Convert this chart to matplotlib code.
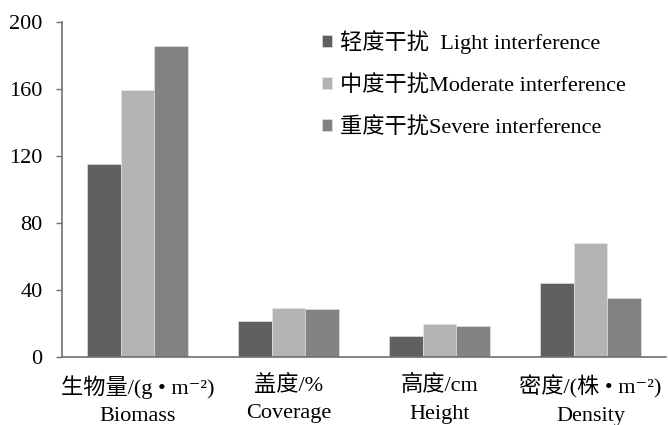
import matplotlib
matplotlib.use("Agg")
import matplotlib.pyplot as plt
import numpy as np

plt.rcParams['font.family'] = ['Liberation Serif', 'Noto Sans CJK SC', 'DejaVu Sans']

categories = ["生物量/(g • m⁻²)\nBiomass", "盖度/%\nCoverage", "高度/cm\nHeight", "密度/(株 • m⁻²)\nDensity"]
series_names = ["轻度干扰  Light interference", "中度干扰Moderate interference", "重度干扰Severe interference"]
light_vals = [115.1, 21.6, 12.7, 44.4]
moderate_vals = [159.5, 29.5, 19.6, 68.2]
severe_vals = [186.0, 28.7, 18.4, 35.5]
colors = ["#606060", "#b4b4b4", "#828282"]
yticks = [0, 40, 80, 120, 160, 200]

fig = plt.figure(figsize=(6.68, 4.25), dpi=100)
ax = fig.add_axes([0.093, 0.16, 0.904, 0.788])

x = np.arange(len(categories))
w = 0.222
for i, (vals, name, c) in enumerate(zip([light_vals, moderate_vals, severe_vals], series_names, colors)):
    ax.bar(x + (i - 1) * w, vals, width=w, color=c, label=name, edgecolor='#e8e8e8', linewidth=0.4)

ax.set_xlim(-0.5, 3.5)
ax.set_ylim(0, 200)
ax.set_yticks(yticks)
ax.set_yticklabels([str(t) for t in yticks], fontsize=16)
ax.set_xticks(x)
ax.set_xticklabels(categories, fontsize=16, linespacing=1.6)
ax.tick_params(axis='x', length=0, pad=13)
ax.tick_params(axis='y', direction='out', length=4, width=1, color='#707070', pad=10)
for s in ['top', 'right']:
    ax.spines[s].set_visible(False)
for s in ['left', 'bottom']:
    ax.spines[s].set_color('#707070')
    ax.spines[s].set_linewidth(1.2)

leg = ax.legend(loc='upper left', bbox_to_anchor=(0.405, 1.022), frameon=False, fontsize=16,
                handlelength=0.45, handleheight=0.45, handletextpad=0.35, labelspacing=0.95,
                borderaxespad=0.3)

fig.savefig("out.png", dpi=100)
